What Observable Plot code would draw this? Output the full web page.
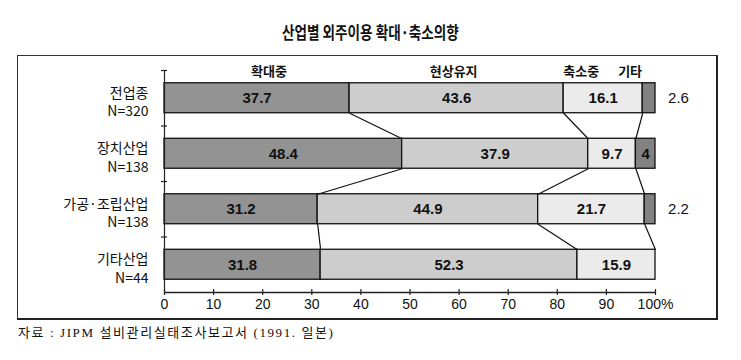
<!DOCTYPE html>
<html><head><meta charset="utf-8">
<script src="https://cdn.jsdelivr.net/npm/d3@7"></script>
<script src="https://cdn.jsdelivr.net/npm/@observablehq/plot@0.6"></script>
<style>
body{margin:0;background:#fff;}
#wrap{position:relative;width:741px;height:360px;overflow:hidden;font-family:"Noto Sans CJK KR","Noto Sans",sans-serif;color:#111;}
#chart{position:absolute;left:0;top:0;}
#title{position:absolute;left:0;top:19px;width:741px;text-align:center;font-size:17px;font-weight:bold;transform:scaleX(0.8);transform-origin:370px 0;}
#frame{position:absolute;left:17px;top:55px;width:698px;height:262px;border:1px solid #333;border-right:2px solid #222;border-bottom:2px solid #222;}
#caption{position:absolute;left:18px;top:322px;font-family:"Liberation Serif","Noto Sans CJK KR",serif;font-size:13px;letter-spacing:1.6px;}
</style></head>
<body>
<div id="wrap">
  <div id="chart"></div>
  <div id="title">산업별 외주이용 확대·축소의향</div>
  <div id="frame"></div>
  <div id="caption">자료 : JIPM 설비관리실태조사보고서 (1991. 일본)</div>
</div>
<script>
const categories = ["전업종", "장치산업", "가공·조립산업", "기타산업"];
const counts = ["N=320", "N=138", "N=138", "N=44"];
const series = ["확대중", "현상유지", "축소중", "기타"];
const expanding = [37.7, 48.4, 31.2, 31.8];
const maintaining = [43.6, 37.9, 44.9, 52.3];
const shrinking = [16.1, 9.7, 21.7, 15.9];
const other = [2.6, 4, 2.2, 0];
const xTicks = [0, 10, 20, 30, 40, 50, 60, 70, 80, 90, 100];
const xTickLabels = ["0", "10", "20", "30", "40", "50", "60", "70", "80", "90", "100%"];

const colors = ["#939393", "#cdcdcd", "#ebebeb", "#828282"];
const half = 0.27;            // half bar thickness in row units
const headerNudge = [12, -3, -22, -19];
const numFont = "'Liberation Sans Narrow','Liberation Sans',sans-serif";

const valuesBySeries = [expanding, maintaining, shrinking, other];
const segments = [];
const cums = [];
categories.forEach((c, i) => {
  let cum = 0;
  const b = [];
  series.forEach((s, k) => {
    const v = valuesBySeries[k][i];
    if (v > 0) segments.push({row: i, series: s, value: v, x1: cum, x2: cum + v});
    cum += v;
    b.push(cum);
  });
  cums.push(b);
});
const connectors = [];
for (let i = 0; i < categories.length - 1; i++) {
  for (let k = 0; k < 3; k++) {
    connectors.push({x1: Math.min(cums[i][k], 100), y1: i + 0.5 + half,
                     x2: Math.min(cums[i + 1][k], 100), y2: i + 1.5 - half});
  }
}
const rows = categories.map((c, i) => ({row: i, label: c + "\n" + counts[i]}));
const row0 = segments.filter(d => d.row === 0);
const fmt = v => Number.isInteger(v) ? String(v) : v.toFixed(1);

const chart = Plot.plot({
  width: 741, height: 360,
  marginTop: 70, marginBottom: 68, marginLeft: 164, marginRight: 86,
  style: {background: "transparent", color: "#111"},
  x: {domain: [0, 100], axis: null},
  y: {domain: [0, 4], reverse: true, axis: null},
  color: {domain: series, range: colors},
  marks: [
    Plot.rect(segments, {x1: "x1", x2: "x2", y1: d => d.row + 0.5 - half, y2: d => d.row + 0.5 + half,
      fill: "series", stroke: "#111", strokeWidth: 1.3}),
    Plot.link(connectors, {x1: "x1", y1: "y1", x2: "x2", y2: "y2", stroke: "#111", strokeWidth: 1.2}),
    Plot.ruleX([0], {y1: 0, y2: 4, stroke: "#222", strokeWidth: 1.2}),
    Plot.ruleY([0, 1, 2, 3], {x1: 0, x2: 0, insetLeft: -3, insetRight: -3, stroke: "#222", strokeWidth: 1.2}),
    Plot.ruleY([4], {x1: 0, x2: 100, stroke: "#222", strokeWidth: 1.3}),
    Plot.ruleX(xTicks, {y1: 4, y2: 4, insetTop: -3, insetBottom: -3, stroke: "#222", strokeWidth: 1.2}),
    Plot.text(xTicks, {x: d => d, y: 4, text: (d, i) => xTickLabels[i], dy: 12, dx: 0,
      fontSize: 14, fontFamily: numFont}),
    Plot.text(rows, {x: 0, y: d => d.row + 0.5, text: "label", textAnchor: "end", dx: -16, dy: 3,
      lineHeight: 1.3, fontSize: 14, fontFamily: "'Noto Sans CJK KR',sans-serif"}),
    ...row0.map((d, k) => Plot.text([d], {x: (d.x1 + d.x2) / 2, y: 0, text: () => series[k], dx: headerNudge[k], dy: 1,
      fontSize: 13, fontWeight: "bold", fontFamily: "'Noto Sans CJK KR',sans-serif"})),
    Plot.text(segments.filter(d => d.value >= 3), {x: d => (d.x1 + d.x2) / 2, y: d => d.row + 0.5, text: d => fmt(d.value),
      fontSize: 15, fontWeight: "bold", fontFamily: numFont, fill: "#111"}),
    Plot.text(segments.filter(d => d.value < 3), {x: d => d.x2, y: d => d.row + 0.5, text: d => fmt(d.value),
      dx: 23, fontSize: 15, fontFamily: numFont, fill: "#111"})
  ]
});
document.getElementById("chart").appendChild(chart);
</script>
</body></html>
